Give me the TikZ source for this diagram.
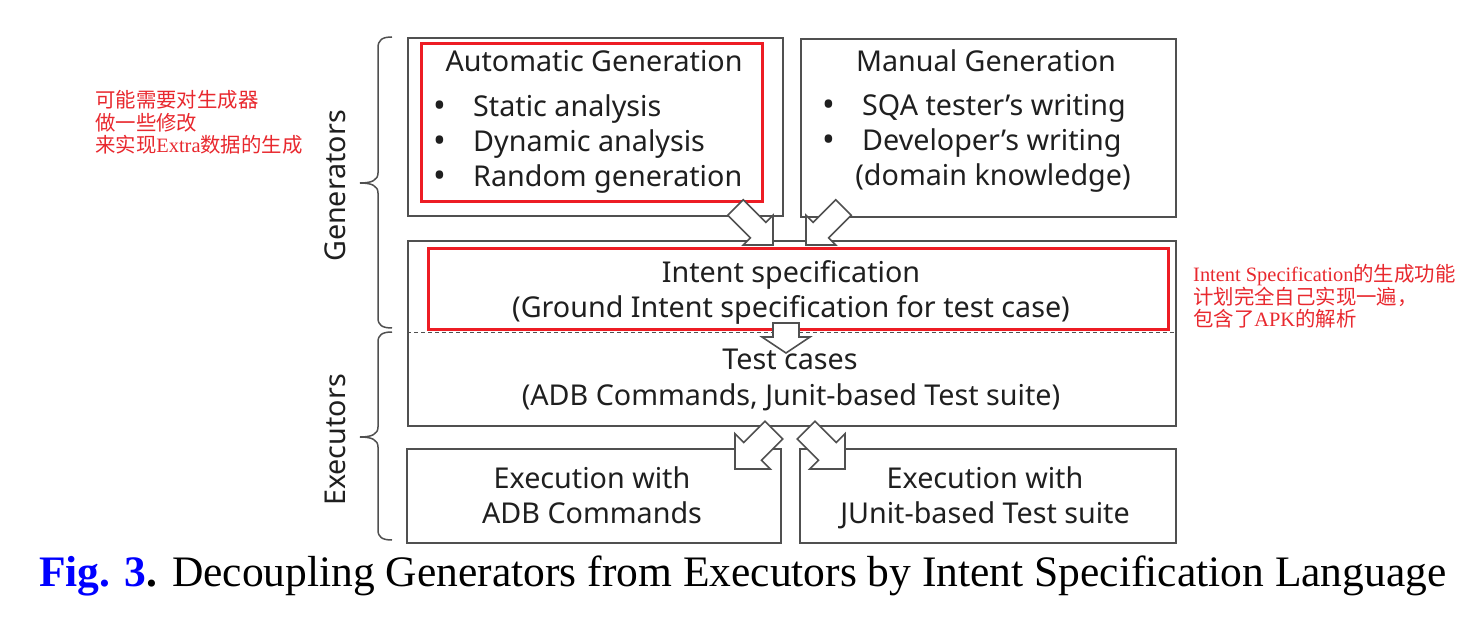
\documentclass[tikz,border=0pt]{standalone}
\usepackage{fontspec}
\setmainfont{Liberation Serif}
\newfontfamily\dia{Noto Sans}
\newfontfamily\cjk{Noto Sans CJK SC}
\definecolor{boxgray}{HTML}{505050}
\definecolor{redbox}{HTML}{ED1C24}
\definecolor{annot}{HTML}{E8282E}
\definecolor{figblue}{HTML}{0000FF}
\newcommand{\blkarrow}[6]{%
  \filldraw[blockarr, shift={(#1)}, rotate=#2] (0,0) -- (-#4,#5) -- (-#4,#6) -- (-#3,#6) -- (-#3,-#6) -- (-#4,-#6) -- (-#4,-#5) -- cycle;}
\begin{document}
\begin{tikzpicture}[x=1pt,y=-1pt,
  box/.style={draw=boxgray, line width=1.6pt, inner sep=0pt, anchor=north west},
  redrect/.style={draw=redbox, line width=2.6pt, inner sep=0pt, anchor=north west},
  blockarr/.style={draw=boxgray, fill=white, line width=1.6pt, line join=miter},
  txt/.style={font=\dia\fontsize{28.7}{32}\selectfont, text=black!88, inner sep=0pt, anchor=base},
  ltxt/.style={txt, anchor=base west},
  bul/.style={txt, font=\dia\fontsize{34}{36}\selectfont},
  brace/.style={draw=boxgray, line width=1.5pt},
  note/.style={font=\fontsize{20.4}{22.7}\selectfont, text=annot, inner sep=0pt, anchor=base west, align=left}]
\useasboundingbox (0,0) rectangle (1473,620);

% boxes
\node (auto) [box, minimum width=375pt, minimum height=178pt] at (407,37) {};
\node (manual) [box, minimum width=375pt, minimum height=178pt] at (800,38) {};
\node (intent) [box, minimum width=768pt, minimum height=185pt] at (407,240) {};
\node (exadb) [box, minimum width=374pt, minimum height=94pt] at (406,448) {};
\node (exjunit) [box, minimum width=376pt, minimum height=94pt] at (799,448) {};
\coordinate (dl) at (407,333);
\coordinate (dr) at (1175,333);
\draw[boxgray, line width=1pt, dash pattern=on 4pt off 3pt] (dl) -- (dr);

% texts
\node[txt] (t1) at (594,72) {Automatic Generation};
\node[bul] (b1) at (440,118) {•};
\node[bul] (b2) at (440,153) {•};
\node[bul] (b3) at (440,188) {•};
\node[ltxt] (t2) at (473,117) {Static analysis};
\node[ltxt] (t3) at (473,152) {Dynamic analysis};
\node[ltxt] (t4) at (473,187) {Random generation};

\node[txt] (m1) at (986,72) {Manual Generation};
\node[bul] (mb1) at (829,117) {•};
\node[bul] (mb2) at (829,152) {•};
\node[ltxt] (m2) at (862,116) {SQA tester’s writing};
\node[ltxt] (m3) at (862,151) {Developer’s writing};
\node[txt] (m4) at (993,186) {(domain knowledge)};

\node[txt] (i1) at (791,283) {Intent specification};
\node[txt] (i2) at (791,318) {(Ground Intent specification for test case)};
\node[txt] (c1) at (790,370) {Test cases};
\node[txt] (c2) at (791,406) {(ADB Commands, Junit-based Test suite)};

\node[txt] (e1) at (592,488) {Execution with};
\node[txt] (e2) at (592,523) {ADB Commands};
\node[txt] (j1) at (985,488) {Execution with};
\node[txt] (j2) at (985,523) {JUnit-based Test suite};

% red highlight rectangles
\node (rauto) [redrect, minimum width=341pt, minimum height=158pt] at (420,42) {};
\node (rintent) [redrect, minimum width=740pt, minimum height=81pt] at (427,247) {};

% block arrows
\coordinate (a1) at (773,245);
\coordinate (a2) at (806,245);
\coordinate (a3) at (786,353);
\coordinate (a4) at (735,469);
\coordinate (a5) at (845,469);
\blkarrow{a1}{-45}{53}{21}{21}{11}
\blkarrow{a2}{-135}{53}{21}{21}{11}
\blkarrow{a3}{-90}{30}{16}{24}{13}
\blkarrow{a4}{-135}{55}{25}{25}{12.5}
\blkarrow{a5}{-45}{55}{25}{25}{12.5}

% braces
\draw[brace] (392,37) .. controls (382,37) and (378,40) .. (378,48) -- (378,173)
  .. controls (378,180) and (372,183) .. (360,183)
  .. controls (372,183) and (378,186) .. (378,193) -- (378,318)
  .. controls (378,325) and (382,328) .. (392,328);
\draw[brace] (392,332) .. controls (382,332) and (378,335) .. (378,342) -- (378,427)
  .. controls (378,434) and (372,437) .. (360,437)
  .. controls (372,437) and (378,440) .. (378,447) -- (378,530)
  .. controls (378,537) and (382,540) .. (392,540);
\node[txt, rotate=90, anchor=center] (gen) at (335,186) {Generators};
\node[txt, rotate=90, anchor=center] (exe) at (335,440) {Executors};

% annotations (base = last line)
\node[note] (n1) at (95,153) {{\cjk 可能需要对生成器}\\{\cjk 做一些修改}\\{\cjk 来实现}Extra{\cjk 数据的生成}};
\node[note] (n2) at (1193,327) {Intent Specification{\cjk 的生成功能}\\{\cjk 计划完全自己实现一遍，}\\{\cjk 包含了}APK{\cjk 的解析}};

% caption
\node[inner sep=0pt, anchor=base west, font=\fontsize{43.5}{50}\selectfont] (cap) at (39,586)
  {\textbf{\color{figblue}Fig. 3}\textbf{.} Decoupling Generators from Executors by Intent Specification Language};
\end{tikzpicture}
\end{document}
